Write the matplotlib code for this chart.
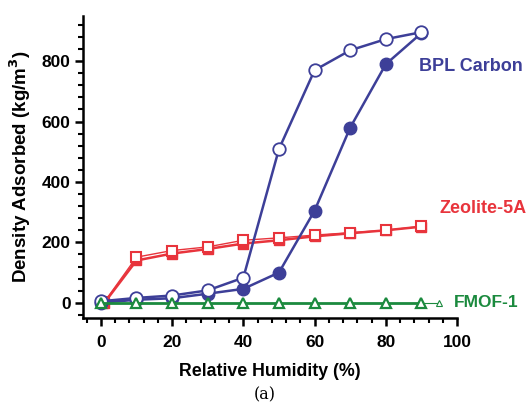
import numpy as np
import matplotlib
matplotlib.use("Agg")
import matplotlib.pyplot as plt
from matplotlib.ticker import MultipleLocator

plt.rcParams["font.family"] = ["Liberation Sans", "DejaVu Sans"]
plt.rcParams["font.weight"] = "bold"

rh = [0, 10, 20, 30, 40, 50, 60, 70, 80, 90]

bpl_ads = [0, 10, 15, 30, 46, 100, 305, 580, 790, 893]
bpl_des = [5, 16, 24, 41, 83, 509, 770, 836, 873, 896]

zeo_rh = [1, 10, 20, 30, 40, 50, 60, 70, 80, 90]
zeo_ads = [0, 140, 163, 178, 196, 207, 220, 230, 240, 252]
zeo_des = [3, 151, 173, 185, 207, 215, 224, 232, 240, 253]

fmof = [0, 0, 0, 0, 0, 0, 0, 0, 0, 0]

blue = "#3d3f98"
red = "#e8343c"
green = "#1b8a3e"

fig = plt.figure(figsize=(5.29, 4.07), dpi=100)
ax = fig.add_axes([0.157, 0.219, 0.707, 0.742])

# Zeolite-5A
ax.plot(zeo_rh, zeo_ads, "-s", color=red, lw=1.8, ms=7, mfc=red, mec=red, zorder=3)
ax.plot(zeo_rh, zeo_des, "-s", color=red, lw=1.0, ms=7, mfc="white", mec=red, mew=1.5, zorder=3)

# BPL Carbon
ax.plot(rh, bpl_ads, "-o", color=blue, lw=1.8, ms=9, mfc=blue, mec=blue, zorder=4)
ax.plot(rh, bpl_des, "-o", color=blue, lw=1.8, ms=9, mfc="white", mec=blue, mew=1.3, zorder=4)

# FMOF-1
ax.plot(rh, fmof, "-^", color=green, lw=2.0, ms=7.5, mfc="white", mec=green, mew=1.6, zorder=5)
ax.plot([rh[-1], 95], [0, 0], "-", color=green, lw=0.8, zorder=2)
ax.plot([95], [0], "^", ms=5, mfc="white", mec=green, mew=0.8, zorder=2)

ax.text(89.3, 783, "BPL Carbon", color=blue, fontsize=13, fontweight="bold", va="center", clip_on=False)
ax.text(95.2, 312, "Zeolite-5A", color=red, fontsize=13, fontweight="bold", va="center", clip_on=False)
ax.text(99.2, 0, "FMOF-1", color=green, fontsize=12.5, fontweight="bold", va="center", clip_on=False)

ax.set_xlim(-5, 100)
ax.set_ylim(-50, 950)
ax.xaxis.set_major_locator(MultipleLocator(20))
ax.xaxis.set_minor_locator(MultipleLocator(4))
ax.yaxis.set_major_locator(MultipleLocator(200))
ax.yaxis.set_minor_locator(MultipleLocator(40))
ax.set_yticks(np.arange(0, 801, 200))

for s in ["top", "right"]:
    ax.spines[s].set_visible(False)
for s in ["left", "bottom"]:
    ax.spines[s].set_linewidth(1.8)

ax.tick_params(which="major", direction="out", length=6, width=1.8, labelsize=12.5, pad=3)
ax.tick_params(axis="x", which="major", pad=6)
ax.tick_params(which="minor", direction="out", length=3.5, width=1.5)

ax.set_xlabel("Relative Humidity (%)", fontsize=12.8, fontweight="bold", labelpad=10)
ax.set_ylabel("Density Adsorbed (kg/m$^\\mathbf{3}$)", fontsize=13.5, fontweight="bold", labelpad=6)

fig.text(0.5, 0.03, "(a)", ha="center", va="center", family="DejaVu Serif", fontsize=11.5, fontweight="normal")

fig.savefig("out.png", dpi=100)
